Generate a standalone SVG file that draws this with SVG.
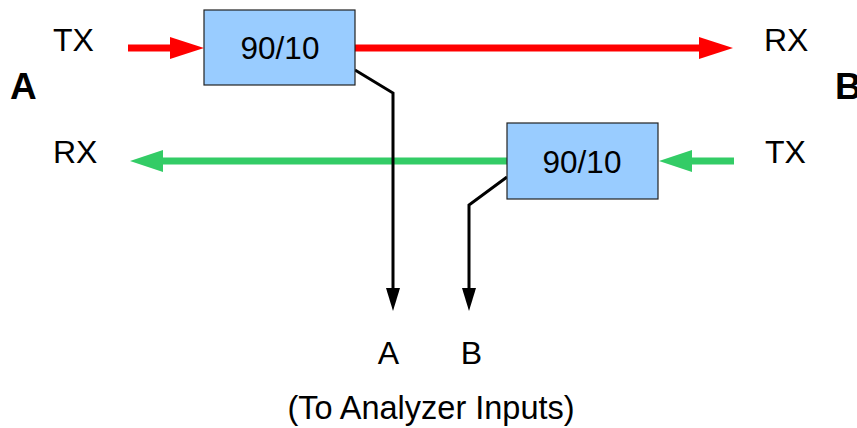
<svg xmlns="http://www.w3.org/2000/svg" width="857" height="428" viewBox="0 0 857 428">
<style>
text{font-family:"Liberation Sans",Arial,sans-serif;font-size:32px;fill:#000}
.big{font-size:37px;font-weight:bold}
.num{font-size:31.5px}
.note{font-size:32.5px}
.box{fill:#99ccff;stroke:#222;stroke-width:1.2}
.red{stroke:#ff0000;stroke-width:7;fill:none}
.green{stroke:#33cc66;stroke-width:7;fill:none}
.blk{stroke:#000;stroke-width:3;fill:none}
</style>
<defs>
<marker id="ar" viewBox="0 0 34 22" markerWidth="34" markerHeight="22" refX="0" refY="11" orient="auto" markerUnits="userSpaceOnUse"><path d="M0,0 L34,11 L0,22 z" fill="#ff0000"/></marker>
<marker id="ag" viewBox="0 0 33 22" markerWidth="33" markerHeight="22" refX="0" refY="11" orient="auto" markerUnits="userSpaceOnUse"><path d="M0,0 L33,11 L0,22 z" fill="#33cc66"/></marker>
<marker id="ab" viewBox="0 0 23 14" markerWidth="23" markerHeight="14" refX="0" refY="7" orient="auto" markerUnits="userSpaceOnUse"><path d="M0,0 L23,7 L0,14 z" fill="#000"/></marker>
</defs>
<g id="connectors">
<line class="red" x1="128" y1="48" x2="170" y2="48" marker-end="url(#ar)"/>
<line class="red" x1="355" y1="48" x2="699" y2="48" marker-end="url(#ar)"/>
<line class="green" x1="507" y1="161" x2="163" y2="161" marker-end="url(#ag)"/>
<line class="green" x1="734" y1="161" x2="692" y2="161" marker-end="url(#ag)"/>
<polyline class="blk" points="355,70 393,93 393,288" marker-end="url(#ab)"/>
<polyline class="blk" points="507,177 469,205 469,288" marker-end="url(#ab)"/>
</g>
<g id="coupler1">
<rect class="box" x="204" y="10" width="151" height="75"/>
<text class="num" x="280" y="59" text-anchor="middle">90/10</text>
</g>
<g id="coupler2">
<rect class="box" x="507" y="123" width="151" height="76"/>
<text class="num" x="582" y="173" text-anchor="middle">90/10</text>
</g>
<g id="labels">
<text x="53" y="51">TX</text>
<text x="53" y="163">RX</text>
<text class="big" x="10" y="99">A</text>
<text class="big" x="835" y="99">B</text>
<text x="764" y="51">RX</text>
<text x="765" y="163">TX</text>
<text x="388.5" y="364" text-anchor="middle">A</text>
<text x="471.5" y="364" text-anchor="middle">B</text>
<text class="note" x="431" y="419" text-anchor="middle">(To Analyzer Inputs)</text>
</g>
</svg>
